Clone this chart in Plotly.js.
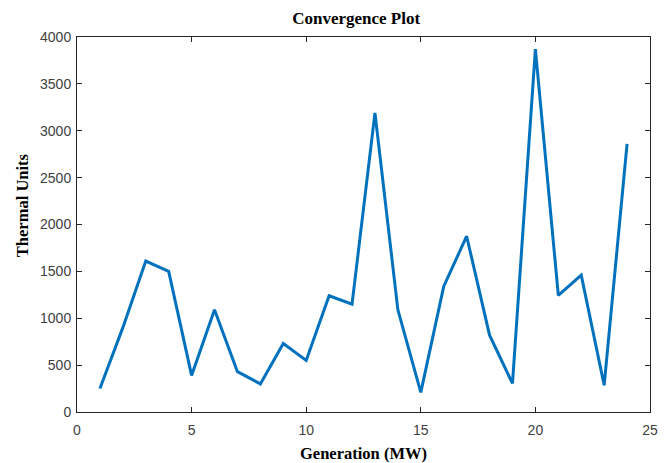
<!DOCTYPE html>
<html>
<head>
<meta charset="utf-8">
<script src="https://cdn.plot.ly/plotly-3.0.1.min.js"></script>
<style>html,body{margin:0;padding:0;background:#fff;}#chart{width:672px;height:463px;}</style>
</head>
<body>
<div id="chart"></div>
<script>
const generations = [1,2,3,4,5,6,7,8,9,10,11,12,13,14,15,16,17,18,19,20,21,22,23,24];
const thermalUnits = [250,900,1610,1500,390,1090,430,300,730,550,1240,1150,3190,1090,210,1340,1875,820,305,3870,1245,1460,285,2860];
const xTicks = [0,5,10,15,20,25];
const yTicks = [0,500,1000,1500,2000,2500,3000,3500,4000];

const serifBold = {family: 'Liberation Serif, Times New Roman, serif', size: 16.5, color: '#000', weight: 'bold'};

const axisCommon = {
  showgrid: false,
  zeroline: false,
  showline: true,
  linecolor: '#262626',
  linewidth: 1,
  mirror: 'ticks',
  ticks: 'inside',
  ticklen: 5,
  tickwidth: 1,
  tickcolor: '#262626',
  tickfont: {family: 'Liberation Sans, Arial, sans-serif', size: 14, color: '#404040'}
};

Plotly.newPlot('chart', [{
  x: generations,
  y: thermalUnits,
  type: 'scatter',
  mode: 'lines',
  line: {color: '#0072BD', width: 3}
}], {
  width: 672, height: 463,
  margin: {l: 77, r: 22, t: 37, b: 51},
  paper_bgcolor: '#fff', plot_bgcolor: '#fff',
  showlegend: false,
  title: {text: 'Convergence Plot', x: 0.53, xanchor: 'center', y: 0.96, yanchor: 'middle',
          font: Object.assign({}, serifBold, {size: 17})},
  xaxis: Object.assign({}, axisCommon, {
    range: [0, 25], tickvals: xTicks, ticktext: xTicks.map(String),
    ticklabelstandoff: 5,
    title: {text: 'Generation (MW)', standoff: 10, font: serifBold}
  }),
  yaxis: Object.assign({}, axisCommon, {
    range: [0, 4000], tickvals: yTicks, ticktext: yTicks.map(String),
    ticklabelstandoff: 2
  }),
  annotations: [{
    text: 'Thermal Units', textangle: -90,
    xref: 'paper', yref: 'paper', x: -0.094, y: 0.552,
    xanchor: 'center', yanchor: 'middle', showarrow: false,
    font: serifBold
  }]
}, {displayModeBar: false, staticPlot: true});
</script>
</body>
</html>
